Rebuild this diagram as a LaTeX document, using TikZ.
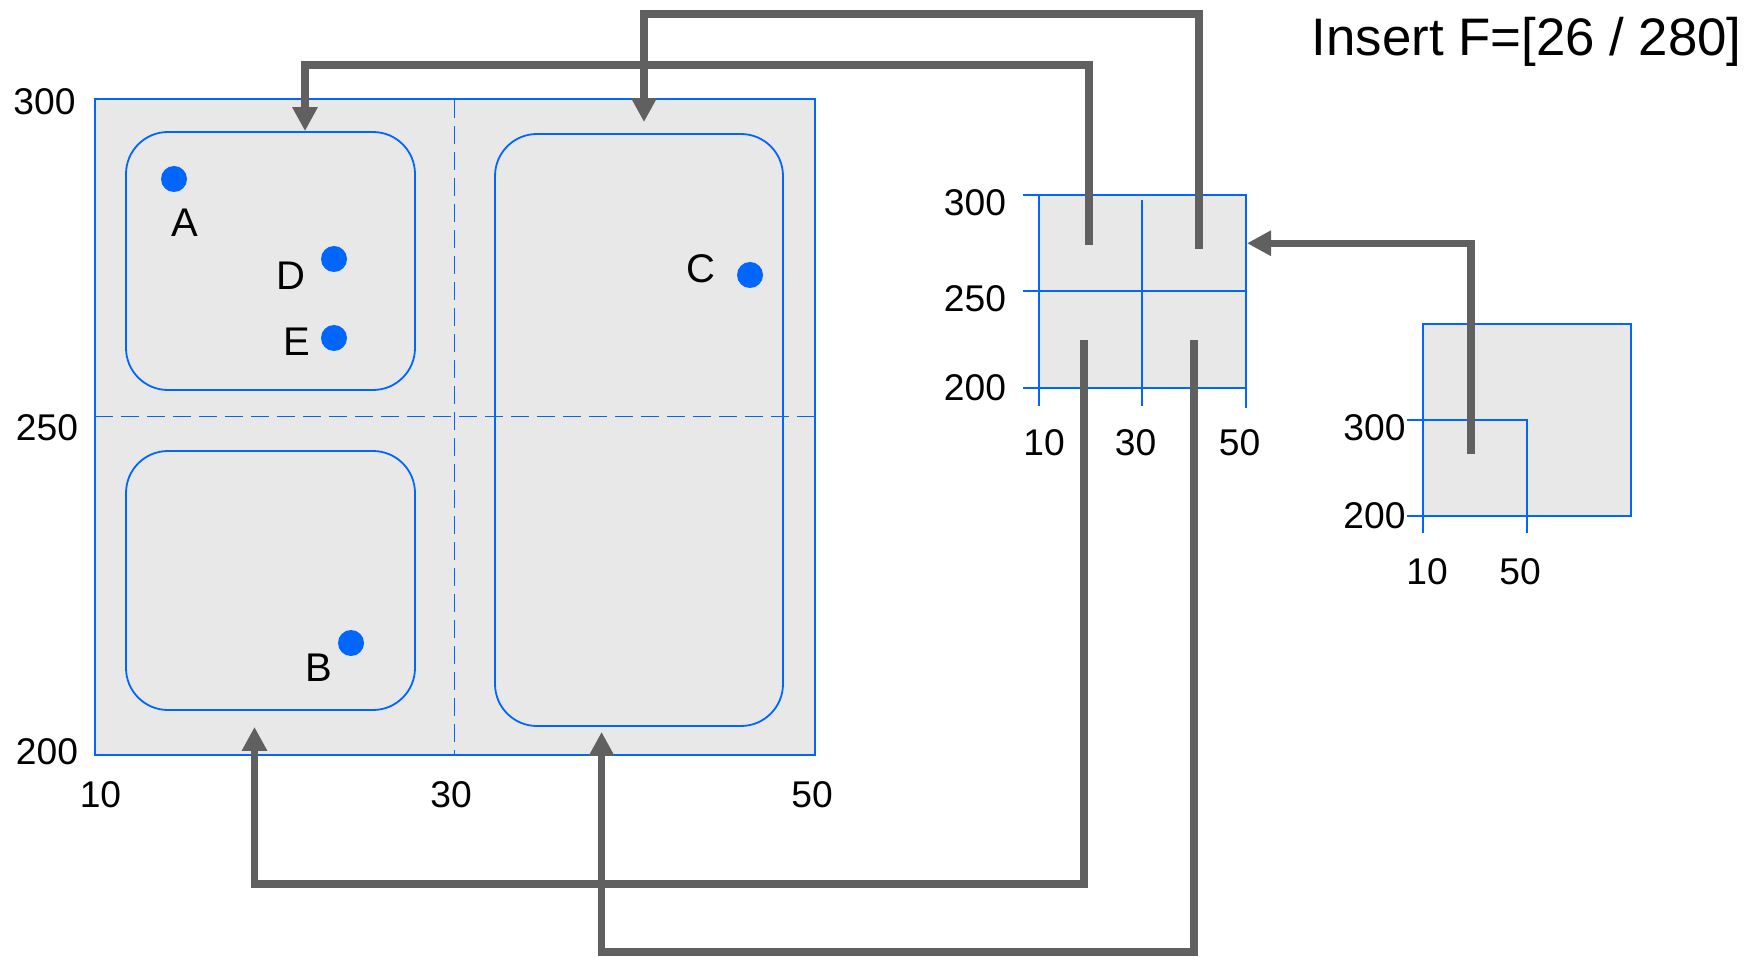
\documentclass[tikz,border=0pt]{standalone}
\usepackage{fontspec}
\setmainfont{Liberation Sans}
\usetikzlibrary{arrows.meta,positioning,calc}
\definecolor{qBlue}{RGB}{0,102,255}
\definecolor{qFill}{RGB}{232,232,232}
\definecolor{qLink}{RGB}{96,96,96}

\begin{document}
\begin{tikzpicture}[x=0.5pt, y=-0.5pt,
    space/.style={draw=qBlue, fill=qFill, line width=1pt, inner sep=0pt},
    zone/.style={draw=qBlue, fill=qFill, line width=0.9pt, rounded corners=21pt, inner sep=0pt},
    split/.style={qBlue, line width=0.9pt, dash pattern=on 9pt off 4pt},
    gridline/.style={qBlue, line width=1pt},
    spot/.style={circle, fill=qBlue, minimum size=13pt, inner sep=0pt},
    tag/.style={font=\fontsize{20}{22}\selectfont, inner sep=0pt},
    tick/.style={font=\fontsize{18.6}{20}\selectfont, inner sep=0pt},
    link/.style={qLink, line width=3.6pt, -{Triangle[length=12pt, width=12pt]}}]
    \useasboundingbox (0,0) rectangle (1751,957);
    % --- data space ---
    \node[space, minimum width=360pt, minimum height=328pt] (world) at (455,427) {};
    \node[zone, minimum width=144.5pt, minimum height=129pt] (qA) at (270.5,261) {};
    \node[zone, minimum width=144.5pt, minimum height=129.5pt] (qB) at (270.5,580.5) {};
    \node[zone, minimum width=144pt, minimum height=296pt] (qC) at (639,430) {};
    \draw[split] (454.5,100) -- (454.5,755);
    \draw[split] (95,416.5) -- (815,416.5);
    \node[tick] (y300) at (44.5,101.5) {300};
    \node[tick] (y250) at (47,427.5) {250};
    \node[tick] (y200) at (47,751.5) {200};
    \node[tick] (x10) at (100.5,795) {10};
    \node[tick] (x30) at (451,795) {30};
    \node[tick] (x50) at (812,795) {50};
    % --- points ---
    \node[spot] (A) at (174,179) {};
    \node[tag] (lA) at (185,223) {A};
    \node[spot] (D) at (334,259) {};
    \node[tag] (lD) at (291,276) {D};
    \node[spot] (E) at (334,338) {};
    \node[tag] (lE) at (297,342) {E};
    \node[spot] (C) at (750,275) {};
    \node[tag] (lC) at (701,269) {C};
    \node[spot] (B) at (351,643) {};
    \node[tag] (lB) at (319,668) {B};
    % --- index nodes ---
    \node[space, minimum width=103.75pt, minimum height=96.25pt] (mid) at (1142.25,291.25) {};
    \draw[gridline] (1023,195) -- (1038.5,195);
    \draw[gridline] (1023,291.5) -- (1246,291.5);
    \draw[gridline] (1023,387.5) -- (1038.5,387.5);
    \draw[gridline] (1142,200) -- (1142,406);
    \draw[gridline] (1038.5,387.5) -- (1038.5,406);
    \draw[gridline] (1246,387.5) -- (1246,408);
    \node[tick] (m300) at (975,203) {300};
    \node[tick] (m250) at (975,299) {250};
    \node[tick] (m200) at (975,387.5) {200};
    \node[tick] (m10) at (1044,443) {10};
    \node[tick] (m30) at (1135.5,443) {30};
    \node[tick] (m50) at (1239.5,443) {50};
    \node[space, minimum width=104.25pt, minimum height=96pt] (small) at (1526.75,420) {};
    \draw[gridline] (1407,420) -- (1526.5,420) -- (1526.5,533);
    \draw[gridline] (1407,516) -- (1422.5,516) -- (1422.5,533);
    \node[tick] (r300) at (1374.5,427.5) {300};
    \node[tick] (r200) at (1374.5,516) {200};
    \node[tick] (r10) at (1427,572) {10};
    \node[tick] (r50) at (1520,572) {50};
    \node[font=\fontsize{26.4}{30}\selectfont, inner sep=0pt, anchor=base east] (title) at (1742,56) {Insert F=[26 / 280]};
    % --- pointers ---
    \coordinate (s1) at (1089,245);
    \coordinate (s2) at (1199,249);
    \coordinate (s3) at (1084,340);
    \coordinate (s4) at (1194,340);
    \coordinate (s5) at (1471,454);
    \coordinate (tA) at ([xshift=17.25pt]qA.north);
    \coordinate (tC) at ([xshift=2.5pt, yshift=5.5pt]qC.north);
    \coordinate (tB) at ([xshift=-8pt, yshift=-8pt]qB.south);
    \coordinate (tC2) at ([xshift=-18.7pt, yshift=-2.5pt]qC.south);
    \coordinate (tM) at ([yshift=24pt]mid.east);
    \draw[link] (s1) |- (tA |- 0,65) -- (tA);
    \draw[link] (s2) |- (tC |- 0,14) -- (tC);
    \draw[link] (s3) |- (tB |- 0,884) -- (tB);
    \draw[link] (s4) |- (tC2 |- 0,952) -- (tC2);
    \draw[link] (s5) |- (tM);
\end{tikzpicture}
\end{document}
